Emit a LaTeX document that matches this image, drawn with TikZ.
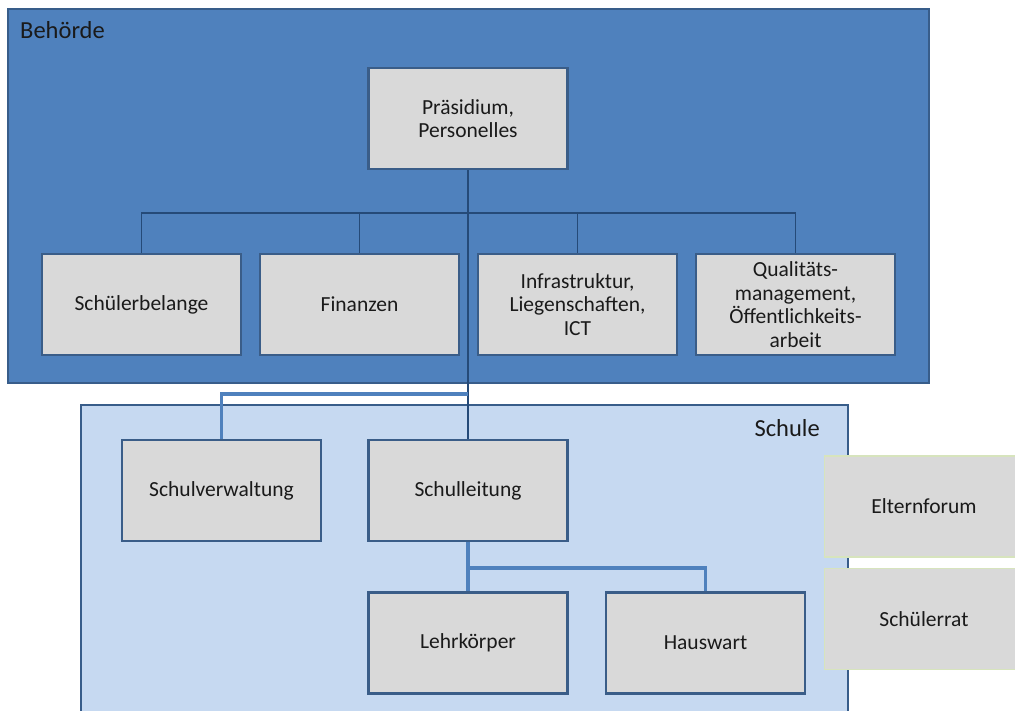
\documentclass[tikz,border=0pt]{standalone}
\usepackage{fontspec}
\setmainfont{Carlito}
\definecolor{behfill}{HTML}{4F81BD}
\definecolor{schfill}{HTML}{C6D9F1}
\definecolor{bordB}{HTML}{385D8A}
\definecolor{boxB}{HTML}{3A5D88}
\definecolor{boxG}{HTML}{D9D9D9}
\definecolor{grn}{HTML}{D7E4BD}
\definecolor{lnD}{HTML}{254A78}
\definecolor{lnL}{HTML}{4F81BD}
\definecolor{txt}{HTML}{1A1A1A}
\begin{document}
\begin{tikzpicture}[x=1pt,y=-1pt,
  grp/.style={draw=bordB, line width=2pt, inner sep=0pt},
  unit/.style={draw=boxB, fill=boxG, line width=2.4pt, minimum width=199pt, minimum height=101pt,
    align=center, inner sep=0pt, text=txt, font=\fontsize{21.5}{23.5}\selectfont},
  side/.style={unit, draw=grn, line width=1.5pt},
  lbl/.style={inner sep=0pt, text=txt, font=\fontsize{24.5}{26}\selectfont},
  lineD/.style={draw=lnD, line width=1.6pt},
  lineL/.style={draw=lnL, line width=3.2pt}]
\clip (0,0) rectangle (1015,711);
\fill[white] (0,0) rectangle (1015,711);
% containers
\node[grp, fill=behfill, minimum width=921pt, minimum height=374pt] (beh) at (468.5,196) {};
\node[grp, fill=schfill, minimum width=767pt, minimum height=320pt] (sch) at (464.5,565) {};
\node[lbl, anchor=base west] (behl) at (20,39) {Behörde};
\node[lbl, anchor=base east] (schl) at (820,436) {Schule};
% units
\node[unit] (pr) at (468,118.5) {Präsidium,\\Personelles};
\node[unit] (b1) at (141.5,304.5) {Schülerbelange};
\node[unit] (b2) at (359.5,304.5) {Finanzen};
\node[unit] (b3) at (577.5,304.5) {Infrastruktur,\\Liegenschaften,\\ICT};
\node[unit] (b4) at (795.5,304.5) {Qualitäts-\\management,\\Öffentlichkeits-\\arbeit};
\node[unit] (sv) at (221.5,490.5) {Schulverwaltung};
\node[unit] (sl) at (468,490.5) {Schulleitung};
\node[unit] (lk) at (468,643) {Lehrkörper};
\node[unit] (hw) at (705.5,643) {Hauswart};
\node[side] (ef) at (924,506.5) {Elternforum};
\node[side] (sr) at (924,619) {Schülerrat};
% connectors
\coordinate (bus) at (468,213);
\coordinate (j1) at (468,394);
\coordinate (j2) at (468,568);
\draw[lineD] (pr.south) -- (sl.north);
\draw[lineD] (bus) -| (b1.north);
\draw[lineD] (bus) -| (b2.north);
\draw[lineD] (bus) -| (b3.north);
\draw[lineD] (bus) -| (b4.north);
\draw[lineL] (j1) -| (sv.north);
\draw[lineL] (sl.south) -- (lk.north);
\draw[lineL] (j2) -| (hw.north);
\end{tikzpicture}
\end{document}
